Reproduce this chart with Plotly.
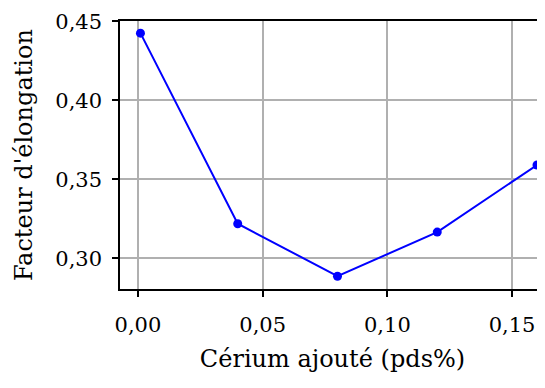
import plotly.graph_objects as go

# Cerium added (wt%) vs elongation factor
cerium = [0.001, 0.04, 0.08, 0.12, 0.16]
elongation = [0.4424, 0.3218, 0.2886, 0.3165, 0.3590]

x_ticks = [0.0, 0.05, 0.10, 0.15]
y_ticks = [0.30, 0.35, 0.40, 0.45]

FONT = "DejaVu Serif"
TICK_SIZE = 21
TITLE_SIZE = 24

fig = go.Figure()
fig.add_trace(go.Scatter(
    x=cerium, y=elongation,
    mode="lines+markers",
    line=dict(color="#0000ff", width=2),
    marker=dict(color="#0000ff", size=9),
    showlegend=False,
    cliponaxis=False,
))

axis_common = dict(
    showline=True, linecolor="black", linewidth=1.5,
    ticks="outside", ticklen=6, tickwidth=1.5, tickcolor="black",
    showgrid=True, gridcolor="#b0b0b0", gridwidth=1.5,
    zeroline=False, tickformat=".2f", automargin=False,
    ticklabeloverflow="allow",
    tickfont=dict(family=FONT, size=TICK_SIZE, color="black"),
)

fig.update_xaxes(
    range=[-0.0072, 0.1632], tickvals=x_ticks, mirror=True,
    ticklabelstandoff=10,
    title=dict(text="Cérium ajouté (pds%)", font=dict(family=FONT, size=TITLE_SIZE, color="black"), standoff=14),
    **axis_common,
)
fig.update_yaxes(
    range=[0.2805, 0.4501], tickvals=y_ticks, mirror=False,
    ticklabelstandoff=6,
    title=dict(text="Facteur d'élongation", font=dict(family=FONT, size=TITLE_SIZE, color="black"), standoff=16),
    **axis_common,
)

# page body has an 8px margin, so the figure is shifted by that much
fig.update_layout(
    width=537, height=381,
    margin=dict(l=112, r=0, t=13, b=100),
    plot_bgcolor="white", paper_bgcolor="white",
    separators=", ",
    font=dict(family=FONT, size=TITLE_SIZE, color="black"),
)

fig.write_html("out.html")
